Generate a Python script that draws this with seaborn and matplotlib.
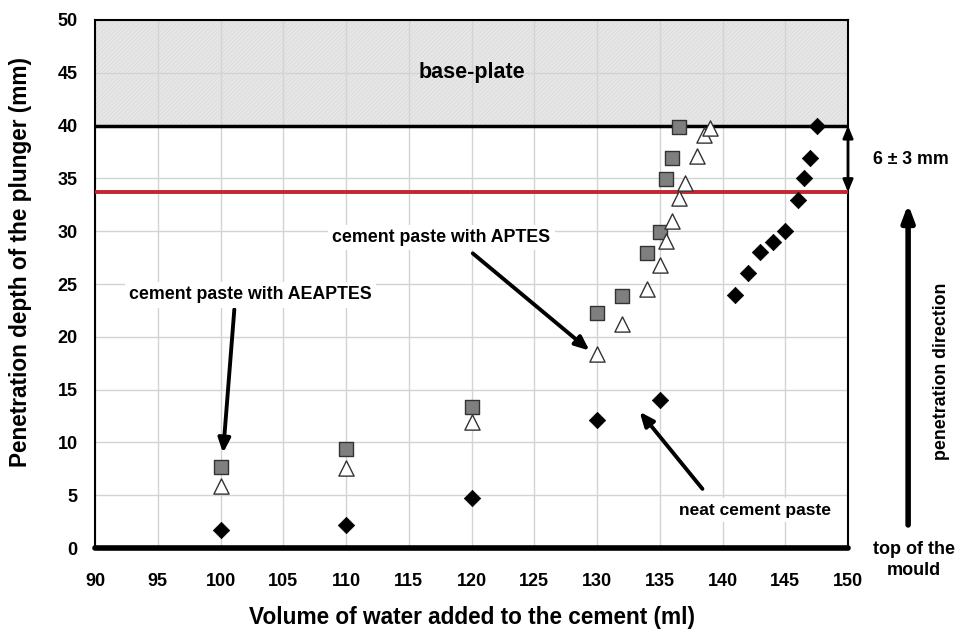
import matplotlib
matplotlib.use("Agg")
import matplotlib.pyplot as plt
import seaborn as sns
from matplotlib.patches import Rectangle

sns.set_theme(style="white")
plt.rcParams["font.family"] = ["Liberation Sans", "DejaVu Sans"]
plt.rcParams["font.weight"] = "bold"
plt.rcParams["hatch.linewidth"] = 0.3
plt.rcParams["text.color"] = "black"
plt.rcParams["axes.labelcolor"] = "black"

# Penetration depth measurements (mm) versus water volume (ml)
aeaptes_water = [100, 110, 120, 130, 132, 134, 135, 135.5, 136, 136.5]
aeaptes_depth = [7.7, 9.4, 13.4, 22.3, 23.9, 27.9, 29.9, 34.9, 36.9, 39.9]

aptes_water = [100, 110, 120, 130, 132, 134, 135, 135.5, 136, 136.5, 137, 138, 138.5, 139]
aptes_depth = [5.9, 7.6, 11.9, 18.4, 21.2, 24.5, 26.8, 29.1, 31.0, 33.1, 34.6, 37.1, 39.1, 39.8]

neat_water = [100, 110, 120, 130, 135, 141, 142, 143, 144, 145, 146, 146.5, 147, 147.5]
neat_depth = [1.7, 2.2, 4.7, 12.1, 14.0, 24.0, 26.0, 28.0, 29.0, 30.0, 33.0, 35.0, 36.9, 40.0]

x_ticks = list(range(90, 151, 5))
y_ticks = list(range(0, 51, 5))
base_plate_level = 40
needle_stop_level = 33.7

fig = plt.figure(figsize=(9.62, 6.34), dpi=100)
ax = fig.add_axes([0.0988, 0.1356, 0.7827, 0.8329])

# base plate region
ax.add_patch(Rectangle((90, base_plate_level), 60, 10, facecolor="#e6e6e6",
                       edgecolor="#d4d4d4", hatch="////////", linewidth=0, zorder=0.5))

ax.set_xlim(90, 150)
ax.set_ylim(0, 50)
ax.set_xticks(x_ticks)
ax.set_yticks(y_ticks)
ax.grid(True, color="#d3d3d3", linewidth=1.0, zorder=0)
ax.set_axisbelow(True)

sns.scatterplot(x=aeaptes_water, y=aeaptes_depth, ax=ax, marker="s", s=95,
                color="#7f7f7f", edgecolor="#333333", linewidth=1.0, zorder=4)
sns.scatterplot(x=aptes_water, y=aptes_depth, ax=ax, marker="^", s=120,
                color="white", edgecolor="#333333", linewidth=1.0, zorder=4)
sns.scatterplot(x=neat_water, y=neat_depth, ax=ax, marker="D", s=70,
                color="black", edgecolor="black", linewidth=0.5, zorder=4)

# reference lines
ax.axhline(base_plate_level, color="black", linewidth=2.5, zorder=3)
ax.axhline(needle_stop_level, color="#c1272d", linewidth=2.8, zorder=3)
ax.axhline(0, color="black", linewidth=4, zorder=3, clip_on=False)

for side in ["left", "right", "top"]:
    ax.spines[side].set_color("black")
    ax.spines[side].set_linewidth(1.5)
ax.spines["bottom"].set_color("black")
ax.spines["bottom"].set_linewidth(3)

ax.tick_params(axis="both", labelsize=13, colors="black", length=6, width=1.3)
ax.tick_params(axis="y", direction="inout", length=9, pad=8)
ax.tick_params(axis="x", direction="out", length=7, pad=11)
for lab in ax.get_xticklabels() + ax.get_yticklabels():
    lab.set_fontweight("bold")

ax.set_xlabel("Volume of water added to the cement (ml)", fontsize=16.3,
              fontweight="bold", va="center")
ax.set_ylabel("Penetration depth of the plunger (mm)", fontsize=16.3,
              fontweight="bold", va="center")
ax.xaxis.set_label_coords(0.501, -0.131)
ax.yaxis.set_label_coords(-0.0996, 0.542)

# annotations
ax.text(120, 45, "base-plate", ha="center", va="center", fontsize=15.5,
        fontweight="bold", zorder=5)

box = dict(boxstyle="square,pad=0.25", facecolor="white", edgecolor="none")
arrow = dict(arrowstyle="-|>,head_length=0.7,head_width=0.3", color="black",
             lw=2.8, shrinkA=0, shrinkB=0)

ax.annotate("", xy=(100.2, 9.0), xytext=(101.1, 22.6), arrowprops=arrow, zorder=6)
ax.text(102.4, 24.0, "cement paste with AEAPTES", ha="center", va="center",
        fontsize=12.8, fontweight="bold", bbox=box, zorder=7)

ax.annotate("", xy=(129.4, 18.7), xytext=(120.1, 27.9), arrowprops=arrow, zorder=6)
ax.text(117.6, 29.4, "cement paste with APTES", ha="center", va="center",
        fontsize=12.8, fontweight="bold", bbox=box, zorder=7)

ax.annotate("", xy=(133.4, 12.9), xytext=(138.4, 5.6), arrowprops=arrow, zorder=6)
ax.text(142.6, 3.6, "neat cement paste", ha="center", va="center",
        fontsize=12.5, fontweight="bold", bbox=box, zorder=7)

# outside-right annotations
dbl = dict(arrowstyle="<|-|>,head_length=0.6,head_width=0.25", color="black",
           lw=2, shrinkA=0, shrinkB=0)
ax.annotate("", xy=(150, base_plate_level), xytext=(150, needle_stop_level),
            arrowprops=dbl, annotation_clip=False, zorder=6)
fig.text(0.947, 0.748, "6 \u00b1 3 mm", ha="center", va="center",
         fontsize=12.8, fontweight="bold")

ax.annotate("", xy=(0.944, 0.678), xytext=(0.944, 0.172),
            xycoords="figure fraction", textcoords="figure fraction",
            annotation_clip=False,
            arrowprops=dict(arrowstyle="-|>,head_length=0.8,head_width=0.3",
                            color="black", lw=4, shrinkA=0, shrinkB=0))
fig.text(0.979, 0.415, "penetration direction", ha="center", va="center",
         rotation=90, fontsize=12.8, fontweight="bold")
fig.text(0.950, 0.117, "top of the\nmould", ha="center", va="center",
         fontsize=13, fontweight="bold", linespacing=1.35)

fig.savefig("out.png", dpi=100, facecolor="white")
